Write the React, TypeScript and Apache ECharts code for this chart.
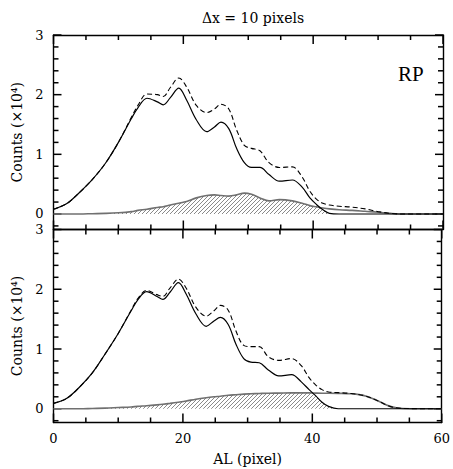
import React, { useEffect, useRef } from "react";
import * as echarts from "echarts";

// shared AL positions (pixel)
const XS = [0, 2, 4, 6, 8, 10, 12, 13, 14.4, 16, 16.9, 18, 19.3, 20.5, 22, 23.6, 24.8, 25.8, 27, 28.2, 29.4, 30.5, 31.8, 33.2, 34.8, 36.8, 38.3, 39.5, 40.5, 41.5, 42.5, 44, 46, 48, 50, 52, 54, 60];

// top panel (RP) — counts in units of 1e4
const TOP_SOLID = [0.08, 0.17, 0.36, 0.58, 0.85, 1.2, 1.6, 1.78, 1.94, 1.88, 1.83, 1.95, 2.11, 1.91, 1.58, 1.38, 1.46, 1.54, 1.43, 1.1, 0.86, 0.78, 0.78, 0.66, 0.55, 0.57, 0.45, 0.27, 0.16, 0.07, 0.01, 0, 0, 0, 0, 0, 0, 0];
const TOP_DASHED = [0.08, 0.17, 0.36, 0.58, 0.85, 1.2, 1.62, 1.82, 2.01, 2.0, 1.97, 2.12, 2.28, 2.13, 1.82, 1.7, 1.76, 1.84, 1.76, 1.41, 1.15, 1.1, 1.06, 0.86, 0.78, 0.79, 0.62, 0.38, 0.25, 0.18, 0.15, 0.13, 0.115, 0.085, 0.04, 0.01, 0, 0];
const TOP_GRAY = [0, 0, 0, 0.005, 0.01, 0.02, 0.04, 0.06, 0.08, 0.11, 0.12, 0.15, 0.18, 0.21, 0.27, 0.31, 0.32, 0.31, 0.3, 0.32, 0.35, 0.33, 0.27, 0.22, 0.24, 0.22, 0.18, 0.14, 0.12, 0.1, 0.085, 0.07, 0.06, 0.045, 0.03, 0.01, 0, 0];

// bottom panel
const BOT_SOLID = [0.09, 0.17, 0.36, 0.6, 0.92, 1.26, 1.64, 1.82, 1.96, 1.88, 1.83, 1.95, 2.11, 1.92, 1.59, 1.38, 1.47, 1.53, 1.41, 1.08, 0.84, 0.78, 0.77, 0.65, 0.55, 0.57, 0.45, 0.32, 0.22, 0.11, 0.04, 0, 0, 0, 0, 0, 0, 0];
const BOT_DASHED = [0.09, 0.17, 0.36, 0.6, 0.92, 1.26, 1.65, 1.84, 1.98, 1.91, 1.88, 2.02, 2.17, 2.02, 1.7, 1.55, 1.64, 1.73, 1.65, 1.3, 1.06, 1.04, 1.04, 0.87, 0.81, 0.84, 0.72, 0.52, 0.4, 0.32, 0.28, 0.27, 0.255, 0.22, 0.14, 0.04, 0.005, 0];
const BOT_GRAY = [0, 0, 0, 0.005, 0.01, 0.02, 0.03, 0.04, 0.05, 0.065, 0.075, 0.09, 0.11, 0.13, 0.16, 0.185, 0.2, 0.21, 0.225, 0.235, 0.245, 0.25, 0.255, 0.26, 0.262, 0.265, 0.265, 0.265, 0.262, 0.26, 0.26, 0.258, 0.25, 0.22, 0.14, 0.04, 0.005, 0];

// tick values / labels
const X_MAJOR = [0, 20, 40, 60];
const X_MINOR = [5, 10, 15, 25, 30, 35, 45, 50, 55];
const Y_MAJOR = [0, 1, 2, 3];
const Y_MINOR = [-0.2, 0.2, 0.4, 0.6, 0.8, 1.2, 1.4, 1.6, 1.8, 2.2, 2.4, 2.6, 2.8];
const X_TICK_LABELS = ["0", "20", "40", "60"];

const TITLE = "Δx = 10 pixels";
const Y_NAME = "Counts (×10⁴)";
const X_NAME = "AL (pixel)";
const PANEL_LABEL = "RP";

const FONT = "DejaVu Serif";

function makeHatch() {
  const c = document.createElement("canvas");
  const s = 4;
  c.width = s;
  c.height = s;
  const ctx = c.getContext("2d")!;
  ctx.strokeStyle = "#8a8a8a";
  ctx.lineWidth = 1;
  ctx.beginPath();
  ctx.moveTo(-1, s + 1);
  ctx.lineTo(s + 1, -1);
  ctx.moveTo(-1, 1);
  ctx.lineTo(1, -1);
  ctx.moveTo(s - 1, s + 1);
  ctx.lineTo(s + 1, s - 1);
  ctx.stroke();
  return c;
}

export default function App() {
  const ref = useRef<HTMLDivElement>(null);

  useEffect(() => {
    if (!ref.current) return;
    const chart = echarts.init(ref.current, undefined, { renderer: "svg" });
    const hatch = makeHatch();

    const grids = [
      { left: 53.5, right: 10, top: 35, height: 194.5 },
      { left: 53.5, right: 10, top: 229.5, height: 193 },
    ];
    const yMins = [-0.26, -0.23];
    const X_MIN = 0;
    const X_MAX = 60;
    const Y_MAX = 3;
    const axisLine = () => ({ show: true, onZero: false, lineStyle: { color: "#000", width: 1.4 } });

    const xAxes: any[] = [];
    const yAxes: any[] = [];
    grids.forEach((_, g) => {
      const isBottom = g === 1;
      const baseX = () => ({
        type: "value",
        gridIndex: g,
        min: X_MIN,
        max: X_MAX,
        interval: 20,
        axisLine: axisLine(),
        axisTick: { show: false },
        minorTick: { show: false },
        splitLine: { show: false },
      });
      xAxes.push({
        ...baseX(),
        position: "bottom",
        name: isBottom ? X_NAME : "",
        nameLocation: "middle",
        nameGap: 29,
        nameTextStyle: { fontFamily: FONT, fontSize: 14, color: "#000" },
        axisLabel: {
          show: isBottom,
          margin: 9,
          fontFamily: FONT,
          fontSize: 13,
          color: "#000",
          formatter: (v: number) => X_TICK_LABELS[Math.round(v / 20)] ?? "",
        },
      });
      xAxes.push({ ...baseX(), position: "top", axisLabel: { show: false } });

      const baseY = () => ({
        type: "value",
        gridIndex: g,
        min: yMins[g],
        max: Y_MAX,
        splitLine: { show: false },
        axisTick: { show: false },
      });
      yAxes.push({
        ...baseY(),
        position: "left",
        name: Y_NAME,
        nameLocation: "middle",
        nameGap: 28,
        nameTextStyle: { fontFamily: FONT, fontSize: 14, color: "#000" },
        axisLine: axisLine(),
        axisLabel: { show: true, margin: 10, customValues: Y_MAJOR, fontFamily: FONT, fontSize: 13, color: "#000" },
      });
      yAxes.push({
        ...baseY(),
        position: "right",
        axisLine: axisLine(),
        axisLabel: { show: false },
      });
    });

    const panels = [
      { solid: TOP_SOLID, dashed: TOP_DASHED, gray: TOP_GRAY },
      { solid: BOT_SOLID, dashed: BOT_DASHED, gray: BOT_GRAY },
    ];
    const SMOOTH = 0.35;
    const series: any[] = [];
    panels.forEach((p, g) => {
      const xi = g * 2;
      const yi = g * 2;
      const yMin = yMins[g];
      const pair = (arr: number[]) => XS.map((x, i) => [x, arr[i]]);
      series.push({
        type: "line",
        xAxisIndex: xi,
        yAxisIndex: yi,
        data: XS.map((x, i) => [x, Math.min(p.gray[i], p.solid[i])]),
        smooth: SMOOTH,
        symbol: "none",
        lineStyle: { width: 0, opacity: 0 },
        areaStyle: { color: { image: hatch, repeat: "repeat" }, opacity: 1 },
      });
      series.push({
        type: "line",
        xAxisIndex: xi,
        yAxisIndex: yi,
        data: pair(p.gray),
        smooth: SMOOTH,
        symbol: "none",
        lineStyle: { color: "#707070", width: 1.6 },
      });
      series.push({
        type: "line",
        xAxisIndex: xi,
        yAxisIndex: yi,
        data: pair(p.dashed),
        smooth: SMOOTH,
        symbol: "none",
        lineStyle: { color: "#000", width: 1.1, type: [5, 3] },
      });
      series.push({
        type: "line",
        xAxisIndex: xi,
        yAxisIndex: yi,
        data: pair(p.solid),
        smooth: SMOOTH,
        symbol: "none",
        lineStyle: { color: "#000", width: 1.2 },
      });

      // inward tick marks on all four sides, placed through the axes' scales
      const ticks: number[][] = [];
      X_MAJOR.forEach((v) => { ticks.push([0, v, 0, 1]); ticks.push([0, v, 1, 1]); });
      X_MINOR.forEach((v) => { ticks.push([0, v, 0, 0]); ticks.push([0, v, 1, 0]); });
      Y_MAJOR.forEach((v) => { ticks.push([1, v, 0, 1]); ticks.push([1, v, 1, 1]); });
      Y_MINOR.forEach((v) => { ticks.push([1, v, 0, 0]); ticks.push([1, v, 1, 0]); });
      series.push({
        type: "custom",
        coordinateSystem: "cartesian2d",
        xAxisIndex: xi,
        yAxisIndex: yi,
        clip: false,
        silent: true,
        data: ticks,
        renderItem: (_params: any, api: any) => {
          const kind = api.value(0);
          const v = api.value(1);
          const side = api.value(2);
          const major = api.value(3);
          let x1: number, y1: number, x2: number, y2: number;
          if (kind === 0) {
            const len = major ? 9 : 5;
            const pt = api.coord([v, side === 0 ? yMin : Y_MAX]);
            x1 = pt[0];
            x2 = pt[0];
            y1 = pt[1];
            y2 = side === 0 ? pt[1] - len : pt[1] + len;
          } else {
            const len = major ? 8 : 5;
            const pt = api.coord([side === 0 ? X_MIN : X_MAX, v]);
            y1 = pt[1];
            y2 = pt[1];
            x1 = pt[0];
            x2 = side === 0 ? pt[0] + len : pt[0] - len;
          }
          return {
            type: "line",
            shape: { x1, y1, x2, y2 },
            style: { stroke: "#000", lineWidth: 1.5 },
          };
        },
      });
    });

    chart.setOption({
      animation: false,
      title: {
        text: TITLE,
        left: 248,
        top: 6,
        textAlign: "center",
        textStyle: { fontFamily: FONT, fontSize: 14, fontWeight: "normal", color: "#000" },
      },
      grid: grids,
      xAxis: xAxes,
      yAxis: yAxes,
      series,
      graphic: [
        {
          type: "text",
          left: 398,
          top: 63,
          style: { text: PANEL_LABEL, fontFamily: "Liberation Serif", fontSize: 21, fill: "#000" },
        },
      ],
    });

    return () => chart.dispose();
  }, []);

  return (
    <div
      ref={ref}
      style={{ position: "fixed", left: 0, top: 0, width: 453, height: 469, background: "#fff" }}
    />
  );
}
